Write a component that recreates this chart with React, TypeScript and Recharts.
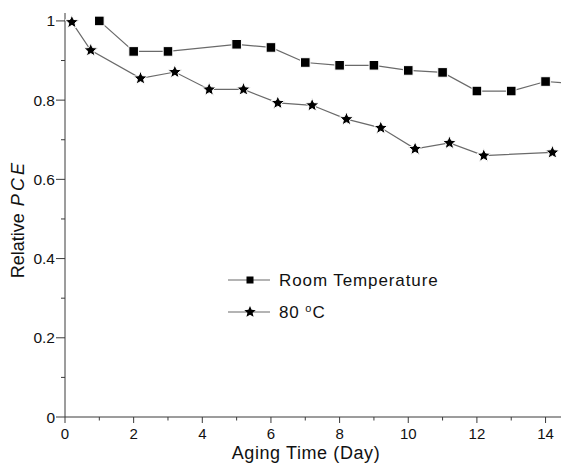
import React from "react";
import { LineChart, Line, XAxis, YAxis, Legend } from "recharts";

// Room temperature aging (squares)
const rtDays = [1, 2, 3, 5, 6, 7, 8, 9, 10, 11, 12, 13, 14, 15];
const rtPCE = [1.0, 0.923, 0.923, 0.941, 0.933, 0.895, 0.888, 0.888, 0.875, 0.87, 0.823, 0.823, 0.847, 0.841];

// 80 °C aging (stars)
const heatDays = [0.2, 0.75, 2.2, 3.2, 4.2, 5.2, 6.2, 7.2, 8.2, 9.2, 10.2, 11.2, 12.2, 14.2];
const heatPCE = [0.997, 0.926, 0.855, 0.871, 0.827, 0.827, 0.793, 0.787, 0.752, 0.73, 0.677, 0.692, 0.66, 0.668];

const xMajorTicks = [0, 2, 4, 6, 8, 10, 12, 14];
const xMinorTicks = [1, 3, 5, 7, 9, 11, 13];
const yMajorTicks = [0, 0.2, 0.4, 0.6, 0.8, 1];
const yMinorTicks = [0.1, 0.3, 0.5, 0.7, 0.9];
const yTickLabels = ["0", "0.2", "0.4", "0.6", "0.8", "1"];

const seriesNames = ["Room Temperature", "80 °C"];

const rtData = rtDays.map((d, i) => ({ day: d, pce: rtPCE[i] }));
const heatData = heatDays.map((d, i) => ({ day: d, pce: heatPCE[i] }));

const FONT = '"Liberation Sans", Arial, Helvetica, sans-serif';
const LINE_COLOR = "#6a6a6a";
const AXIS_COLOR = "#3a3a3a";
const TEXT_COLOR = "#111";

function starPath(cx: number, cy: number, R: number): string {
  const r = R * 0.45;
  let d = "";
  for (let i = 0; i < 10; i++) {
    const a = ((-90 + i * 36) * Math.PI) / 180;
    const rad = i % 2 === 0 ? R : r;
    const px = cx + rad * Math.cos(a);
    const py = cy + rad * Math.sin(a);
    d += (i === 0 ? "M" : "L") + px.toFixed(2) + "," + py.toFixed(2);
  }
  return d + "Z";
}

const isMajor = (v: number, majors: number[]) => majors.some((m) => Math.abs(m - v) < 1e-6);

const YTick = (props: any) => {
  const { x, y, payload } = props;
  const v = payload.value as number;
  const major = isMajor(v, yMajorTicks);
  const idx = yMajorTicks.findIndex((m) => Math.abs(m - v) < 1e-6);
  return (
    <g>
      <line x1={x - (major ? 9 : 4)} x2={x} y1={y} y2={y} stroke={AXIS_COLOR} strokeWidth={1} />
      {major && (
        <text x={x - 10} y={y + 5.5} textAnchor="end" fontSize={15.5} fontFamily={FONT} fill={TEXT_COLOR}>
          {yTickLabels[idx]}
        </text>
      )}
    </g>
  );
};

const XTick = (props: any) => {
  const { x, y, payload } = props;
  const v = payload.value as number;
  const major = isMajor(v, xMajorTicks);
  return (
    <g>
      <line x1={x} x2={x} y1={y} y2={y + (major ? 6 : 3.5)} stroke={AXIS_COLOR} strokeWidth={1} />
      {major && (
        <text x={x} y={y + 22} textAnchor="middle" fontSize={15} fontFamily={FONT} fill={TEXT_COLOR}>
          {String(v)}
        </text>
      )}
    </g>
  );
};

const SquareDot = (p: any) => {
  if (p.cx == null || p.cy == null) return <g key={`sq-${p.index}`} />;
  return (
    <rect
      key={`sq-${p.index}`}
      x={p.cx - 4.8}
      y={p.cy - 4.8}
      width={9.6}
      height={9.6}
      fill="#000"
      stroke="#fff"
      strokeWidth={1}
    />
  );
};

const StarDot = (p: any) => {
  if (p.cx == null || p.cy == null) return <g key={`st-${p.index}`} />;
  return <path key={`st-${p.index}`} d={starPath(p.cx, p.cy, 7.2)} fill="#000" stroke="#fff" strokeWidth={1} />;
};

const LegendBox = () => (
  <svg width={240} height={64} style={{ display: "block" }}>
    <line x1={8} x2={50} y1={15} y2={15} stroke={LINE_COLOR} strokeWidth={1.2} />
    <rect x={26.5} y={11.5} width={7} height={7} fill="#000" />
    <text x={59} y={20.5} fontSize={17} letterSpacing={0.9} fontFamily={FONT} fill={TEXT_COLOR}>
      {seriesNames[0]}
    </text>
    <line x1={8} x2={50} y1={47} y2={47} stroke={LINE_COLOR} strokeWidth={1.2} />
    <path d={starPath(30, 47, 6)} fill="#000" />
    <text x={59} y={52.5} fontSize={17} letterSpacing={0.9} fontFamily={FONT} fill={TEXT_COLOR}>
      {"80 "}
      <tspan fontSize={11} dy={-6}>
        o
      </tspan>
      <tspan dy={6}>C</tspan>
    </text>
  </svg>
);

export default function App() {
  return (
    <div style={{ position: "absolute", left: 0, top: 0, background: "#fff" }}>
      <LineChart width={561} height={464} margin={{ top: 13, right: 0, bottom: 0, left: 0 }}>
        <XAxis
          xAxisId="top"
          orientation="top"
          type="number"
          domain={[0, 14.45]}
          allowDataOverflow
          height={0}
          tick={false}
          tickLine={false}
          axisLine={{ stroke: "#b0b0b0", strokeWidth: 1.2 }}
        />
        <XAxis
          dataKey="day"
          type="number"
          domain={[0, 14.45]}
          allowDataOverflow
          ticks={[...xMajorTicks, ...xMinorTicks].sort((a, b) => a - b)}
          interval={0}
          height={47}
          tickSize={0}
          tickMargin={0}
          tickLine={false}
          tick={<XTick />}
          axisLine={{ stroke: AXIS_COLOR, strokeWidth: 1 }}
          label={{
            content: () => (
              <text x={306} y={458.5} textAnchor="middle" fontSize={18} letterSpacing={0.6} fontFamily={FONT} fill={TEXT_COLOR}>
                Aging Time (Day)
              </text>
            ),
          }}
        />
        <YAxis
          type="number"
          domain={[0, 1.02]}
          allowDataOverflow
          ticks={[...yMajorTicks, ...yMinorTicks].sort((a, b) => a - b)}
          interval={0}
          width={65}
          tickSize={0}
          tickMargin={0}
          tickLine={false}
          tick={<YTick />}
          axisLine={{ stroke: AXIS_COLOR, strokeWidth: 1 }}
          label={{
            content: () => (
              <text
                x={23.5}
                y={219}
                transform="rotate(-90, 23.5, 219)"
                textAnchor="middle"
                fontSize={18}
                fontFamily={FONT}
                fill={TEXT_COLOR}
              >
                {"Relative"}
                <tspan dx={7} fontStyle="italic" letterSpacing={3.2}>
                  PCE
                </tspan>
              </text>
            ),
          }}
        />
        <Line
          data={rtData}
          dataKey="pce"
          name={seriesNames[0]}
          stroke={LINE_COLOR}
          strokeWidth={1.2}
          dot={SquareDot}
          activeDot={false}
          isAnimationActive={false}
        />
        <Line
          data={heatData}
          dataKey="pce"
          name={seriesNames[1]}
          stroke={LINE_COLOR}
          strokeWidth={1.2}
          dot={StarDot}
          activeDot={false}
          isAnimationActive={false}
        />
        <Legend
          layout="vertical"
          align="center"
          verticalAlign="middle"
          content={() => <LegendBox />}
          wrapperStyle={{ left: 220, top: 265, width: 240, height: 64 }}
        />
      </LineChart>
    </div>
  );
}
